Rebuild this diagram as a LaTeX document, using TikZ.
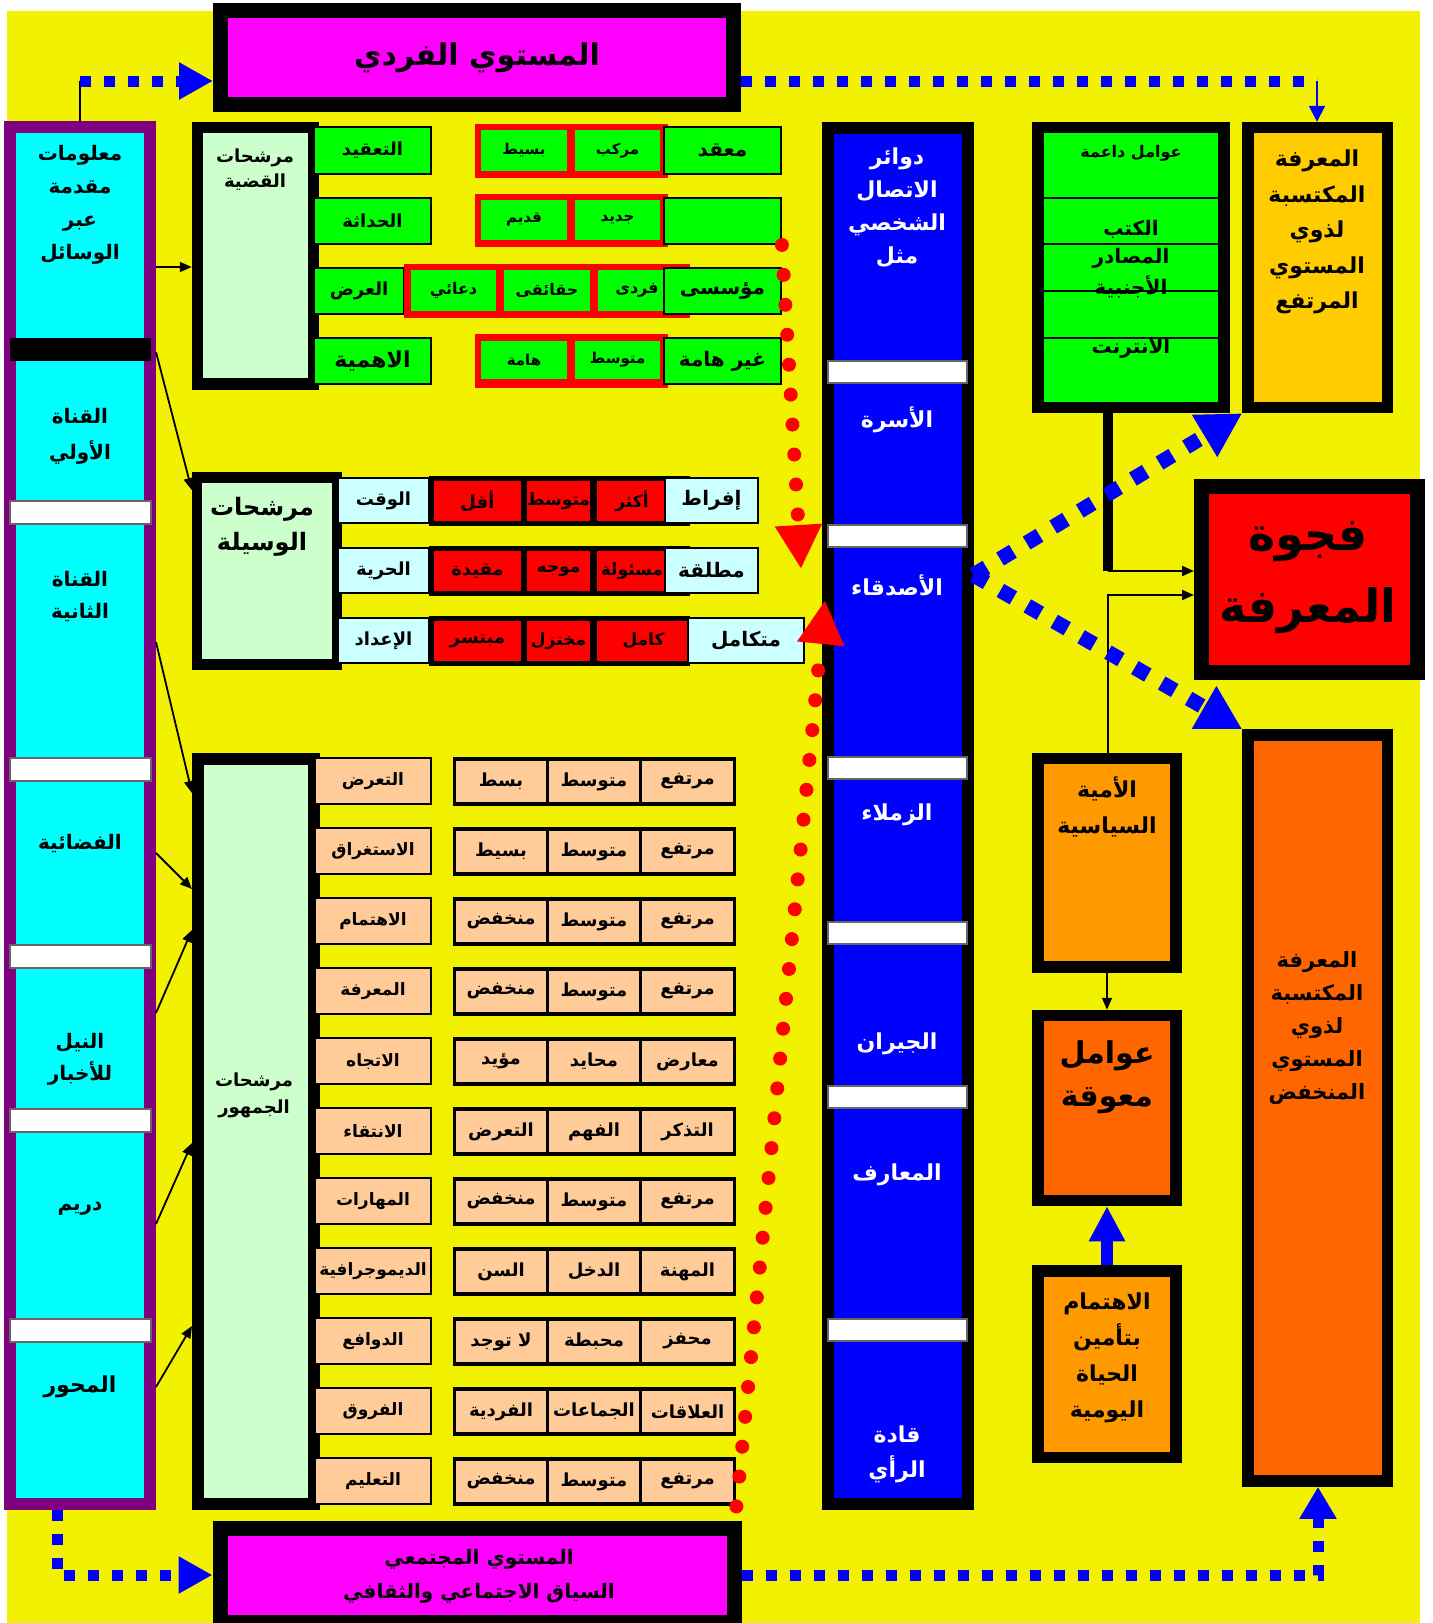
\documentclass[tikz,border=0pt]{standalone}
\usepackage{fontspec}
\newfontfamily\arabicfont[Script=Arabic]{DejaVu Sans}
\TeXXeTstate=1
\usetikzlibrary{arrows.meta,calc}
\definecolor{KGYellow}{HTML}{F2F200}
\definecolor{KGMagenta}{HTML}{FF00FF}
\definecolor{KGPurple}{HTML}{800080}
\definecolor{KGCyan}{HTML}{00FFFF}
\definecolor{KGMint}{HTML}{CCFFCC}
\definecolor{KGGreen}{HTML}{00FF00}
\definecolor{KGSky}{HTML}{CCFFFF}
\definecolor{KGPeach}{HTML}{FFCC99}
\definecolor{KGBlue}{HTML}{0000FF}
\definecolor{KGGold}{HTML}{FFCC00}
\definecolor{KGAmber}{HTML}{FF9900}
\definecolor{KGOrange}{HTML}{FF6600}
\definecolor{KGRed}{HTML}{FF0000}
\newcommand{\R}[1]{\beginR#1\endR}
% box from (x1,y1) to (x2,y2) in pixels, text does not widen it
\newcommand{\rbox}[7][]{%
  \pgfmathsetmacro{\rbw}{((#5)-(#3))/2}%
  \pgfmathsetmacro{\rbh}{((#6)-(#4))/2}%
  \node[#1, minimum width=\rbw pt, minimum height=\rbh pt] (#2) at ({((#3)+(#5))/2},{((#4)+(#6))/2}) {\makebox[0pt]{#7}};%
}

\begin{document}
\begin{tikzpicture}[x=0.5pt, y=-0.5pt,
  kgf/.style 2 args={font=\arabicfont\bfseries\fontsize{#1}{#2}\selectfont},
  kgtxt/.style={align=center, inner sep=0pt},
  kgframe/.style={draw=black, line width=5.75pt, inner sep=0pt},
  kgframethick/.style={draw=black, line width=7.5pt, inner sep=0pt},
  kggreen/.style={draw=black, line width=0.9pt, fill=KGGreen, inner sep=0pt},
  kgsky/.style={draw=black, line width=0.9pt, fill=KGSky, inner sep=0pt},
  kgpeach/.style={draw=black, line width=0.8pt, fill=KGPeach, inner sep=0pt},
  kgfill/.style={fill=#1, inner sep=0pt},
  kgbar/.style={draw=black!60, line width=0.6pt, fill=white},
  kgthin/.style={draw=black, line width=0.9pt, -{Triangle[width=5pt,length=6pt]}},
  kgdots/.style={draw=KGBlue, line width=7.5pt, dash pattern=on 7.5pt off 8pt, -{Triangle[width=23pt,length=22pt]}},
  kgsmalldots/.style={draw=KGBlue, line width=5.5pt, dash pattern=on 5.5pt off 6.5pt},
  kgreddots/.style={draw=KGRed, line width=7pt, line cap=round, dash pattern=on 0pt off 15pt, -{Triangle[width=22pt,length=22pt]}}
]
\useasboundingbox (0,0) rectangle (1433,1623);
\fill[KGYellow] (7,11) rectangle (1420,1623);

% levels
\rbox[kgframethick, fill=KGMagenta, kgf={15}{18}]{indiv}{220.5}{10.5}{733.5}{104.5}{\R{المستوي الفردي}}
\rbox[kgframethick, fill=KGMagenta]{society}{220}{1528.5}{734}{1622}{}
\node[kgtxt, kgf={10}{17}] (societyt) at (479,1576) {\R{المستوي المجتمعي}\\\R{السياق الاجتماعي والثقافي}};

% channels
\rbox[draw=KGPurple, line width=6pt, fill=KGCyan, inner sep=0pt]{chan}{10}{127}{150}{1503.5}{}
\fill[black] (10,338) rectangle (151,361);
\foreach \yb in {501,758,945,1109,1319} \draw[kgbar] (10,\yb) rectangle (151,\yb+23);
\node[kgtxt, kgf={10}{16.5}] (ch0) at (80,205) {\R{معلومات}\\\R{مقدمة}\\\R{عبر}\\\R{الوسائل}};
\node[kgtxt, kgf={10}{18}] (ch1) at (80,436) {\R{القناة}\\\R{الأولي}};
\node[kgtxt, kgf={10}{16}] (ch2) at (80,597) {\R{القناة}\\\R{الثانية}};
\node[kgtxt, kgf={10}{16}] (ch3) at (80,844) {\R{الفضائية}};
\node[kgtxt, kgf={10}{16}] (ch4) at (80,1059) {\R{النيل}\\\R{للأخبار}};
\node[kgtxt, kgf={10}{16}] (ch5) at (80,1209) {\R{دريم}};
\node[kgtxt, kgf={11}{16}] (ch6) at (80,1387) {\R{المحور}};

% filters
\rbox[kgframe, fill=KGMint]{fb1}{197.5}{127.5}{313.5}{384}{}
\node[kgtxt, kgf={9}{12.5}] (fb1t) at (255,170) {\R{مرشحات}\\\R{القضية}};
\rbox[kgframe, line width=5.25pt, fill=KGMint]{fb2}{197}{477.5}{337}{664.5}{}
\node[kgtxt, kgf={12}{17.5}] (fb2t) at (262,527) {\R{مرشحات}\\\R{الوسيلة}};
\rbox[kgframe, line width=6pt, fill=KGMint]{fb3}{198}{759}{314}{1504}{}
\node[kgtxt, kgf={9}{13.5}] (fb3t) at (254,1095) {\R{مرشحات}\\\R{الجمهور}};

% issue rows
\rbox[kggreen, kgf={9}{11}]{is1}{314}{127}{431}{174}{\R{التعقيد}}
\rbox[kgfill=KGRed]{is1r}{475}{124}{668}{178}{}
\rbox[kgfill=KGGreen, kgf={7.5}{9}]{is1a}{481}{130}{567}{171}{\R{بسيط}}
\rbox[kgfill=KGGreen, kgf={7.5}{9}]{is1b}{575}{130}{660}{171}{\R{مركب}}
\rbox[kggreen, kgf={10}{12}]{is1c}{664}{127}{781}{174}{\R{معقد}}
\rbox[kggreen, kgf={9}{11}]{is2}{314}{198}{431}{244}{\R{الحداثة}}
\rbox[kgfill=KGRed]{is2r}{475}{194}{668}{247}{}
\rbox[kgfill=KGGreen, kgf={7.5}{9}]{is2a}{481}{200}{567}{240}{\R{قديم}}
\rbox[kgfill=KGGreen, kgf={7.5}{9}]{is2b}{575}{200}{660}{240}{\R{جديد}}
\rbox[kggreen]{is2c}{664}{198}{781}{244}{}
\rbox[kggreen, kgf={9}{11}]{is3}{314}{268}{404}{314}{\R{العرض}}
\rbox[kgfill=KGRed]{is3r}{404}{264}{690}{318}{}
\rbox[kgfill=KGGreen, kgf={8}{9}]{is3a}{411}{270}{496}{311}{\R{دعائي}}
\rbox[kgfill=KGGreen, kgf={8}{9}]{is3b}{504}{270}{590}{311}{\R{حقائقى}}
\rbox[kgfill=KGGreen, kgf={8}{9}]{is3d}{598}{270}{676}{311}{\R{فردى}}
\rbox[kggreen, kgf={10}{12}]{is3c}{664}{268}{781}{314}{\R{مؤسسى}}
\rbox[kggreen, kgf={11}{13}]{is4}{314}{338}{431}{384}{\R{الاهمية}}
\rbox[kgfill=KGRed]{is4r}{475}{334}{668}{388}{}
\rbox[kgfill=KGGreen, kgf={7.5}{9}]{is4a}{481}{341}{567}{379}{\R{هامة}}
\rbox[kgfill=KGGreen, kgf={7.5}{9}]{is4b}{575}{341}{660}{379}{\R{متوسط}}
\rbox[kggreen, kgf={10}{12}]{is4c}{664}{338}{781}{384}{\R{غير هامة}}

% medium rows
\foreach \lab/\ca/\cb/\cc/\cd/\xl/\xr/\yy [count=\k] in {%
  الوقت/أقل/متوسط/أكثر/إفراط/665/758/478,
  الحرية/مقيدة/موجه/مسئولة/مطلقة/665/758/548,
  الإعداد/مبتسر/مختزل/كامل/متكامل/688/804/618} {
  \rbox[kgsky, kgf={9}{11}]{md\k}{338}{\yy}{429}{\yy+45}{\R{\lab}}
  \rbox[kgfill=black]{md\k-g}{429}{\yy-2}{690}{\yy+48}{}
  \rbox[kgfill=KGRed, kgf={9}{11}]{md\k-a}{434}{\yy+3}{521}{\yy+43}{\R{\ca}}
  \rbox[kgfill=KGRed, kgf={8.5}{11}]{md\k-b}{527}{\yy+3}{590}{\yy+43}{\R{\cb}}
  \rbox[kgfill=KGRed, kgf={8.5}{11}]{md\k-c}{597}{\yy+3}{\xl+2}{\yy+43}{\R{\cc}}
  \rbox[kgsky, kgf={10}{12}]{md\k-d}{\xl}{\yy}{\xr}{\yy+45}{\R{\cd}}
}

% audience rows
\foreach \lab/\ca/\cb/\cc [count=\k from 0] in {%
  التعرض/بسط/متوسط/مرتفع, الاستغراق/بسيط/متوسط/مرتفع,
  الاهتمام/منخفض/متوسط/مرتفع, المعرفة/منخفض/متوسط/مرتفع,
  الاتجاه/مؤيد/محايد/معارض, الانتقاء/التعرض/الفهم/التذكر,
  المهارات/منخفض/متوسط/مرتفع, الديموجرافية/السن/الدخل/المهنة,
  الدوافع/لا توجد/محبطة/محفز, الفروق/الفردية/الجماعات/العلاقات,
  التعليم/منخفض/متوسط/مرتفع} {
  \pgfmathsetmacro{\yy}{758+70*\k}
  \rbox[kgpeach, kgf={8.5}{10}]{au\k}{315}{\yy}{431}{\yy+46}{\R{\lab}}
  \rbox[kgfill=black]{au\k-g}{453}{\yy-1}{736}{\yy+48}{}
  \rbox[kgfill=KGPeach, kgf={9}{11}]{au\k-a}{456}{\yy+3}{546}{\yy+44}{\R{\ca}}
  \rbox[kgfill=KGPeach, kgf={9}{11}]{au\k-b}{549}{\yy+3}{639}{\yy+44}{\R{\cb}}
  \rbox[kgfill=KGPeach, kgf={9}{11}]{au\k-c}{642}{\yy+3}{733}{\yy+44}{\R{\cc}}
}

% personal circles
\rbox[draw=black, line width=6pt, fill=KGBlue, inner sep=0pt]{circ}{828}{127.5}{967.5}{1503.5}{}
\foreach \yb in {361,525,757,922,1086,1319} \draw[kgbar] (828,\yb) rectangle (967,\yb+22);
\node[kgtxt, kgf={11}{16.5}, text=white] (ci0) at (897,208) {\R{دوائر}\\\R{الاتصال}\\\R{الشخصي}\\\R{مثل}};
\node[kgtxt, kgf={11}{16}, text=white] (ci1) at (897,420) {\R{الأسرة}};
\node[kgtxt, kgf={11}{16}, text=white] (ci2) at (897,585) {\R{الأصدقاء}};
\node[kgtxt, kgf={11}{16}, text=white] (ci3) at (897,815) {\R{الزملاء}};
\node[kgtxt, kgf={11}{16}, text=white] (ci4) at (897,1044) {\R{الجيران}};
\node[kgtxt, kgf={11}{16}, text=white] (ci5) at (897,1175) {\R{المعارف}};
\node[kgtxt, kgf={11}{17.5}, text=white] (ci6) at (897,1454) {\R{قادة}\\\R{الرأي}};

% right side
\rbox[kgframe, fill=KGGreen]{supp}{1038}{127.5}{1224}{407.5}{}
\foreach \yl in {198,244,291,338} \draw[black, line width=0.9pt] (1044,\yl) -- (1219,\yl);
\node[kgtxt, kgf={8}{10}] (sp0) at (1131,153) {\R{عوامل داعمة}};
\node[kgtxt, kgf={10}{12}] (sp1) at (1131,229) {\R{الكتب}};
\node[kgtxt, kgf={10}{12}] (sp2) at (1131,258) {\R{المصادر}};
\node[kgtxt, kgf={10}{12}] (sp3) at (1131,287) {\R{الأجنبية}};
\node[kgtxt, kgf={10}{12}] (sp4) at (1131,348) {\R{الانترنت}};
\rbox[kgframe, fill=KGGold]{high}{1248}{127.5}{1387.5}{407.5}{}
\node[kgtxt, kgf={11}{17.8}] (hight) at (1317,232) {\R{المعرفة}\\\R{المكتسبة}\\\R{لذوي}\\\R{المستوي}\\\R{المرتفع}};
\rbox[kgframethick, fill=KGRed]{gap}{1201.5}{486.5}{1417.5}{672}{}
\node[kgtxt, kgf={23}{36}] (gapt) at (1308,578) {\R{فجوة}\\\R{المعرفة}};
\rbox[kgframe, fill=KGAmber]{illit}{1038}{758.5}{1176}{967}{}
\node[kgtxt, kgf={11}{18}] (illitt) at (1107,807) {\R{الأمية}\\\R{السياسية}};
\rbox[kgframe, fill=KGOrange]{barr}{1038}{1015.5}{1176}{1200.5}{}
\node[kgtxt, kgf={15}{21.5}] (barrt) at (1107,1077) {\R{عوامل}\\\R{معوقة}};
\rbox[kgframe, fill=KGAmber]{daily}{1038}{1271}{1176}{1457.5}{}
\node[kgtxt, kgf={11}{18}] (dailyt) at (1107,1358) {\R{الاهتمام}\\\R{بتأمين}\\\R{الحياة}\\\R{اليومية}};
\rbox[kgframe, fill=KGOrange]{low}{1248}{735}{1387.5}{1481}{}
\node[kgtxt, kgf={10.5}{16.5}] (lowt) at (1317,1028) {\R{المعرفة}\\\R{المكتسبة}\\\R{لذوي}\\\R{المستوي}\\\R{المنخفض}};

% connectors
\coordinate (j1) at (1108,571);
\coordinate (j2) at (1108,595);
\draw[black, line width=5pt] (supp.south -| j1) -- (j1);
\draw[kgthin] (j1) -- (gap.west |- j1);
\draw[kgthin] (illit.north -| j2) -- (j2) -- (gap.west |- j2);
\draw[kgthin] (illit.south) -- (barr.north);
\draw[KGBlue, line width=5.75pt, -{Triangle[width=17pt,length=17.5pt]}] (daily.north) -- (barr.south);

\draw[kgthin] (chan.east |- 0,267) -- (fb1.west |- 0,267);
\draw[kgthin] (chan.east |- 0,352) -- (fb2.west |- 0,490);
\draw[kgthin] (chan.east |- 0,642) -- (fb3.west |- 0,793);
\draw[kgthin] (chan.east |- 0,853) -- (fb3.west |- 0,889);
\draw[kgthin] (chan.east |- 0,1013) -- (fb3.west |- 0,930);
\draw[kgthin] (chan.east |- 0,1224) -- (fb3.west |- 0,1143);
\draw[kgthin] (chan.east |- 0,1387) -- (fb3.west |- 0,1326);

\coordinate (tl) at (80,81);
\coordinate (tr) at (1317,81);
\coordinate (bl) at (57,1575);
\coordinate (br) at (1318,1575);
\draw[black, line width=1pt] (chan.north -| tl) -- (tl);
\draw[kgsmalldots, -{Triangle[width=17.5pt,length=17pt]}] (tl) -- (indiv.west |- tl);
\draw[kgsmalldots] (indiv.east |- tr) -- (tr);
\draw[KGBlue, line width=1pt, -{Triangle[width=8pt,length=8pt]}] (tr) -- (high.north -| tr);
\draw[kgsmalldots, -{Triangle[width=17.5pt,length=17pt]}] (chan.south -| bl) -- (bl) -- (society.west |- bl);
\draw[kgsmalldots, -{Triangle[width=17.5pt,length=16pt]}] (society.east |- br) -- (br) -- (low.south -| br);

\coordinate (fr) at (circ.east |- 0,575);
\draw[kgdots] (fr) -- (high.south west);
\draw[kgdots] (fr) -- (low.north west);

\coordinate (rt1) at (801,569);
\coordinate (rt2) at (825,600);
\draw[kgreddots] (is2c.south east) -- (rt1);
\draw[kgreddots] (au10-g.south east) -- (rt2);
\end{tikzpicture}
\end{document}
